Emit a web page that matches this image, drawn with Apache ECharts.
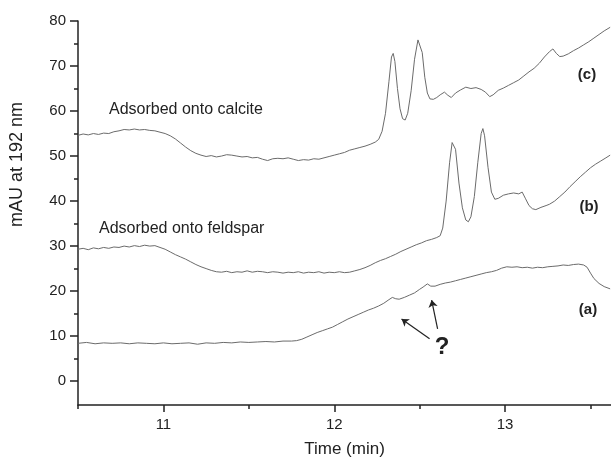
<!DOCTYPE html>
<html>
    <head>
        <meta charset="UTF-8">
        <script src="https://cdn.jsdelivr.net/npm/echarts@6/dist/echarts.min.js"></script>
    </head>
    <body style="margin:0">
        <div id="main" style="width:611px;height:463px"></div>
        <script type="text/javascript">
            // traces: [time (min), mAU]
            var traceA = [
                [10.50,8.4],[10.55,8.6],[10.60,8.3],[10.65,8.5],[10.70,8.4],[10.75,8.5],[10.80,8.3],[10.85,8.5],
                [10.90,8.4],[10.95,8.3],[11.00,8.5],[11.05,8.3],[11.10,8.4],[11.15,8.5],[11.20,8.2],[11.25,8.5],
                [11.30,8.4],[11.35,8.6],[11.40,8.5],[11.45,8.7],[11.50,8.6],[11.55,8.7],[11.60,8.8],[11.65,8.7],
                [11.70,8.9],[11.75,8.9],[11.78,9.0],[11.81,9.3],[11.84,9.8],[11.87,10.3],[11.90,10.8],[11.93,11.2],
                [11.96,11.6],[11.99,12.0],[12.02,12.6],[12.05,13.2],[12.08,13.8],[12.11,14.3],[12.14,14.8],[12.17,15.3],
                [12.20,15.8],[12.23,16.2],[12.26,16.7],[12.29,17.3],[12.32,18.1],[12.34,18.6],[12.36,18.3],[12.38,18.2],
                [12.41,18.6],[12.44,19.1],[12.47,19.6],[12.50,20.4],[12.52,20.9],[12.545,21.6],[12.565,21.1],[12.59,21.1],
                [12.62,21.5],[12.65,21.8],[12.68,22.0],[12.71,22.3],[12.74,22.6],[12.77,22.9],[12.80,23.2],[12.83,23.5],
                [12.86,23.8],[12.89,24.1],[12.92,24.3],[12.95,24.6],[12.98,25.1],[13.01,25.4],[13.04,25.3],[13.07,25.4],
                [13.10,25.2],[13.13,25.3],[13.16,25.1],[13.19,25.3],[13.22,25.2],[13.25,25.4],[13.28,25.5],[13.31,25.6],
                [13.34,25.8],[13.37,25.7],[13.40,25.9],[13.43,26.0],[13.46,25.8],[13.48,25.3],[13.50,24.0],[13.52,22.8],
                [13.55,21.7],[13.58,21.0],[13.615,20.5]
            ];
            var traceB = [
                [10.50,29.3],[10.53,29.5],[10.56,29.2],[10.59,29.6],[10.62,29.4],[10.65,29.7],[10.68,29.5],[10.71,29.8],
                [10.74,29.7],[10.77,30.0],[10.80,29.8],[10.83,30.1],[10.86,29.9],[10.89,30.2],[10.92,30.0],[10.95,30.1],
                [10.98,29.7],[11.01,29.3],[11.04,28.7],[11.07,28.1],[11.10,27.6],[11.13,27.1],[11.16,26.5],[11.19,25.9],
                [11.22,25.4],[11.25,25.0],[11.28,24.6],[11.31,24.3],[11.34,24.2],[11.37,24.4],[11.40,24.1],[11.43,24.3],
                [11.46,24.2],[11.49,24.5],[11.52,24.2],[11.55,24.4],[11.58,24.3],[11.61,24.1],[11.64,24.3],[11.67,24.2],
                [11.70,24.0],[11.73,24.2],[11.76,24.1],[11.79,24.3],[11.82,24.0],[11.85,24.2],[11.88,24.1],[11.91,24.3],
                [11.94,24.0],[11.97,24.2],[12.00,24.1],[12.03,24.3],[12.06,24.1],[12.09,24.2],[12.12,24.5],[12.15,24.8],
                [12.18,25.2],[12.21,25.7],[12.24,26.3],[12.27,26.8],[12.30,27.2],[12.33,27.7],[12.36,28.2],[12.39,28.8],
                [12.42,29.3],[12.45,29.8],[12.48,30.3],[12.51,30.7],[12.54,31.2],[12.57,31.5],[12.60,31.9],[12.62,32.3],
                [12.635,34.0],[12.655,40.0],[12.675,48.5],[12.69,53.0],[12.70,53.4],[12.71,51.5],[12.73,44.0],[12.75,38.5],
                [12.77,35.8],[12.785,35.4],[12.80,36.5],[12.82,41.0],[12.84,48.5],[12.86,55.0],[12.87,56.1],[12.88,54.5],
                [12.90,47.5],[12.92,42.0],[12.94,40.4],[12.96,40.6],[12.99,41.3],[13.02,41.6],[13.05,41.8],[13.08,41.6],
                [13.10,42.0],[13.12,40.5],[13.14,39.0],[13.16,38.3],[13.18,38.1],[13.21,38.6],[13.24,39.0],[13.26,39.3],
                [13.29,40.0],[13.32,41.0],[13.35,42.0],[13.38,43.2],[13.41,44.3],[13.44,45.4],[13.47,46.4],[13.50,47.4],
                [13.53,48.2],[13.56,48.9],[13.59,49.6],[13.615,50.2]
            ];
            var traceC = [
                [10.50,54.6],[10.53,54.9],[10.56,54.7],[10.59,55.0],[10.62,54.8],[10.65,55.1],[10.68,55.0],[10.71,55.4],
                [10.74,55.6],[10.77,55.9],[10.80,55.8],[10.83,56.0],[10.86,55.8],[10.89,55.9],[10.92,55.7],[10.95,55.6],
                [10.98,55.3],[11.01,55.0],[11.04,54.5],[11.07,53.8],[11.10,52.9],[11.13,52.0],[11.16,51.2],[11.19,50.6],
                [11.22,50.2],[11.25,49.9],[11.28,50.1],[11.31,49.8],[11.34,50.0],[11.37,50.3],[11.40,50.2],[11.43,50.0],
                [11.46,49.8],[11.49,49.9],[11.52,49.6],[11.55,49.7],[11.58,49.3],[11.61,49.0],[11.64,49.4],[11.67,49.5],
                [11.70,49.4],[11.73,49.6],[11.76,49.3],[11.79,49.0],[11.82,49.2],[11.85,49.1],[11.88,49.4],[11.91,49.3],
                [11.94,49.6],[11.97,49.9],[12.00,50.2],[12.03,50.5],[12.06,50.8],[12.09,51.3],[12.12,51.6],[12.15,51.9],
                [12.18,52.2],[12.21,52.6],[12.24,53.1],[12.26,53.7],[12.28,55.5],[12.30,59.5],[12.32,66.5],[12.335,72.0],
                [12.345,72.8],[12.355,71.0],[12.37,65.0],[12.385,60.5],[12.40,58.3],[12.415,58.0],[12.43,59.5],[12.45,64.5],
                [12.47,71.5],[12.49,75.8],[12.50,76.0],[12.515,73.0],[12.53,67.5],[12.545,64.0],[12.56,62.7],[12.58,62.6],
                [12.60,63.0],[12.62,63.6],[12.645,64.2],[12.665,63.5],[12.685,63.0],[12.71,64.0],[12.74,64.7],[12.77,65.3],
                [12.80,65.0],[12.83,65.2],[12.86,64.8],[12.885,64.2],[12.91,63.2],[12.93,63.6],[12.96,64.6],[12.99,65.1],
                [13.02,65.7],[13.05,66.3],[13.08,66.9],[13.11,67.8],[13.14,68.7],[13.17,69.5],[13.20,70.6],[13.23,72.0],
                [13.26,73.2],[13.28,73.8],[13.30,72.8],[13.32,72.1],[13.34,72.2],[13.37,72.7],[13.40,73.4],[13.43,74.0],
                [13.46,74.7],[13.49,75.4],[13.52,76.2],[13.55,77.0],[13.58,77.8],[13.615,78.6]
            ];
            var xLabels = [11, 12, 13];
            var xMinor = [10.5, 11.5, 12.5, 13.5];
            var yLabels = [0, 10, 20, 30, 40, 50, 60, 70, 80];
            var yMinor = [5, 15, 25, 35, 45, 55, 65, 75];
            // the two "?" arrows, tail -> head
            var arrows = [
                [[12.558, 9.4], [12.394, 13.8]],
                [[12.605, 11.6], [12.570, 18.0]]
            ];

            var chartDom = document.getElementById('main');
            var myChart = echarts.init(chartDom);

            var ink = '#222';
            var traceColor = '#6b6b6b';
            var font = 'Liberation Sans';

            var lineSeries = function(name, data) {
                return {
                    name: name,
                    type: 'line',
                    data: data,
                    showSymbol: false,
                    animation: false,
                    lineStyle: { color: traceColor, width: 1 }
                };
            };

            var seriesA = lineSeries('a', traceA);
            seriesA.markLine = {
                silent: true,
                animation: false,
                symbol: ['none', 'arrow'],
                symbolSize: 7,
                label: { show: false },
                lineStyle: { color: ink, width: 1.2, type: 'solid' },
                data: arrows.map(function(p) {
                    return [{ coord: p[0] }, { coord: p[1] }];
                })
            };

            var option = {
                backgroundColor: '#fff',
                textStyle: { fontFamily: font },
                grid: { left: 78, top: 21, right: 0, bottom: 54 },
                xAxis: [
                    {
                        type: 'value', min: 10.5, max: 13.62,
                        splitLine: { show: false },
                        axisLine: { onZero: false, lineStyle: { color: ink, width: 1.5 } },
                        axisTick: { customValues: xLabels, length: 7, lineStyle: { color: ink, width: 1.5 } },
                        axisLabel: { customValues: xLabels, color: ink, fontSize: 15, margin: 12 },
                        name: 'Time (min)', nameLocation: 'middle', nameGap: 36,
                        nameTextStyle: { color: ink, fontSize: 17 }
                    },
                    {
                        type: 'value', min: 10.5, max: 13.62, position: 'bottom',
                        splitLine: { show: false },
                        axisLine: { show: false, onZero: false },
                        axisTick: { customValues: xMinor, length: 4, lineStyle: { color: ink, width: 1.5 } },
                        axisLabel: { show: false }
                    }
                ],
                yAxis: [
                    {
                        type: 'value', min: -5.3, max: 80,
                        splitLine: { show: false },
                        axisLine: { show: true, onZero: false, lineStyle: { color: ink, width: 1.5 } },
                        axisTick: { show: true, customValues: yLabels, length: 8, lineStyle: { color: ink, width: 1.5 } },
                        axisLabel: { customValues: yLabels, color: ink, fontSize: 15, margin: 12 }
                    },
                    {
                        type: 'value', min: -5.3, max: 80, position: 'left',
                        splitLine: { show: false },
                        axisLine: { show: false, onZero: false },
                        axisTick: { show: true, customValues: yMinor, length: 4, lineStyle: { color: ink, width: 1.5 } },
                        axisLabel: { show: false }
                    }
                ],
                graphic: [
                    { type: 'text', left: 8, top: 102, rotation: Math.PI / 2,
                      style: { text: 'mAU at 192 nm', fill: ink, font: '18px ' + font } },
                    { type: 'text', x: 109, y: 110,
                      style: { text: 'Adsorbed onto calcite', fill: ink, font: '16px ' + font, verticalAlign: 'middle' } },
                    { type: 'text', x: 99, y: 229,
                      style: { text: 'Adsorbed onto feldspar', fill: ink, font: '16px ' + font, verticalAlign: 'middle' } },
                    { type: 'text', x: 587, y: 75,
                      style: { text: '(c)', fill: ink, font: 'bold 15px ' + font, align: 'center', verticalAlign: 'middle' } },
                    { type: 'text', x: 589, y: 207,
                      style: { text: '(b)', fill: ink, font: 'bold 15px ' + font, align: 'center', verticalAlign: 'middle' } },
                    { type: 'text', x: 588, y: 310,
                      style: { text: '(a)', fill: ink, font: 'bold 15px ' + font, align: 'center', verticalAlign: 'middle' } },
                    { type: 'text', x: 442, y: 347,
                      style: { text: '?', fill: ink, font: 'bold 24px ' + font, align: 'center', verticalAlign: 'middle' } }
                ],
                series: [
                    seriesA,
                    lineSeries('b', traceB),
                    lineSeries('c', traceC)
                ]
            };

            option && myChart.setOption(option);
        </script>
    </body>
</html>
